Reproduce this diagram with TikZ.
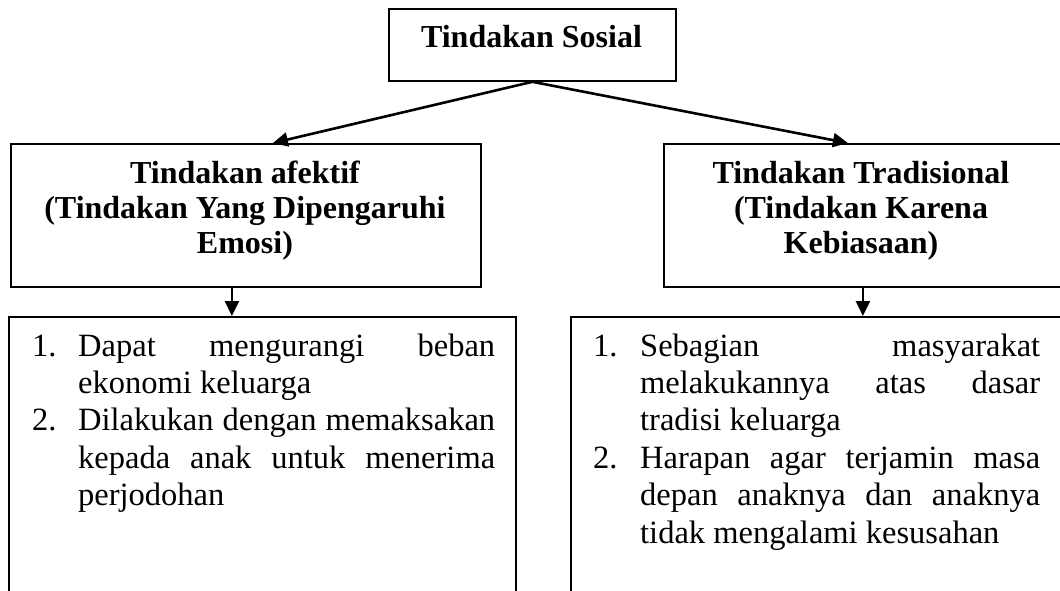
\documentclass[tikz,border=0pt]{standalone}
\usepackage{fontspec}
\setmainfont{Liberation Serif}
\usetikzlibrary{arrows.meta}
\begin{document}
\begin{tikzpicture}[x=1pt,y=-1pt,
 box/.style={draw, line width=1.8pt, inner sep=0pt, anchor=north west},
 arr/.style={line width=2.6pt, -{Triangle[length=15pt,width=14pt]}},
 ttl/.style={font=\fontsize{32}{35}\selectfont\bfseries, inner sep=0pt, anchor=base},
 body/.style={font=\fontsize{32.5}{37.4}\selectfont, inner sep=0pt, anchor=base west}]
\useasboundingbox (0,0) rectangle (1060,590);
\clip (0,0) rectangle (1060,590);
% boxes
\node[box, minimum width=287pt, minimum height=72pt] (top) at (388,8) {};
\node[box, minimum width=470pt, minimum height=143pt] (left) at (10,143) {};
\node[box, minimum width=400pt, minimum height=143pt] (right) at (663,143) {};
\node[box, minimum width=507pt, minimum height=320pt] (bl) at (8,316) {};
\node[box, minimum width=500pt, minimum height=320pt] (br) at (570,316) {};
% titles
\node[ttl] (toptxt) at (531.5,47) {Tindakan Sosial};
\node[ttl] (lefttxt) at (245,183) {\parbox[t]{460pt}{\centering Tindakan afektif\\(Tindakan Yang Dipengaruhi\\Emosi)}};
\node[ttl] (righttxt) at (861,183) {\parbox[t]{390pt}{\centering Tindakan Tradisional\\(Tindakan Karena\\Kebiasaan)}};
% connectors
\draw[arr] (top.south) -- ([xshift=27pt]left.north);
\draw[arr] (top.south) -- ([xshift=-16pt]right.north);
\draw[arr] ([xshift=-14pt]left.south) -- ([xshift=-14pt]left.south |- bl.north);
\draw[arr] ([xshift=-1pt]right.south) -- ([xshift=-1pt]right.south |- br.north);
% body texts
\node[body] (bltxt) at (32,356) {\parbox[t]{470pt}{\raggedright
\makebox[46pt][l]{1.}\makebox[417pt][s]{Dapat mengurangi beban}\\
\hspace*{46pt}ekonomi keluarga\\
\makebox[46pt][l]{2.}\makebox[417pt][s]{Dilakukan dengan memaksakan}\\
\hspace*{46pt}\makebox[417pt][s]{kepada anak untuk menerima}\\
\hspace*{46pt}perjodohan}};
\node[body] (brtxt) at (593,356) {\parbox[t]{460pt}{\raggedright
\makebox[47pt][l]{1.}\makebox[400pt][s]{Sebagian masyarakat}\\
\hspace*{47pt}\makebox[400pt][s]{melakukannya atas dasar}\\
\hspace*{47pt}tradisi keluarga\\
\makebox[47pt][l]{2.}\makebox[400pt][s]{Harapan agar terjamin masa}\\
\hspace*{47pt}\makebox[400pt][s]{depan anaknya dan anaknya}\\
\hspace*{47pt}tidak mengalami kesusahan}};
\end{tikzpicture}
\end{document}
